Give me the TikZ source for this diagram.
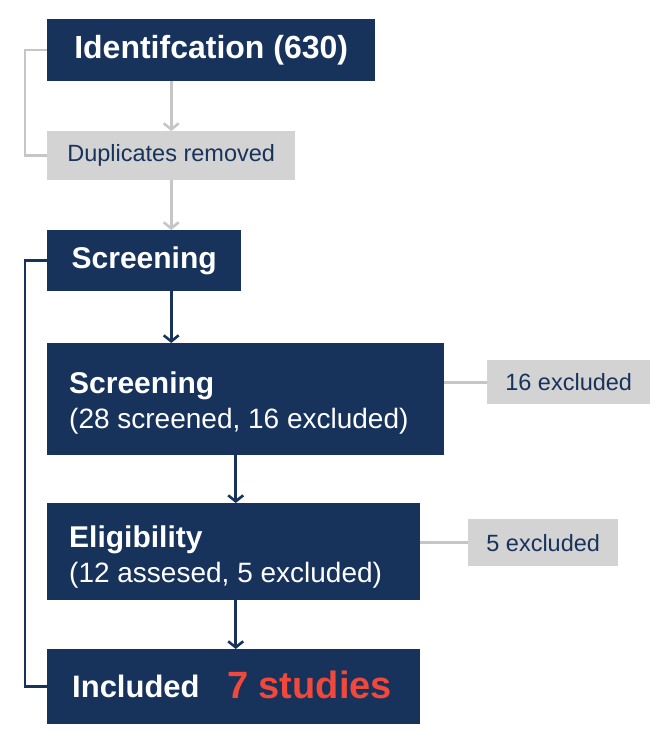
\documentclass[tikz,border=0pt]{standalone}
\usepackage{fontspec}
\setmainfont{Liberation Sans}
\usetikzlibrary{arrows.meta}
\definecolor{navy}{HTML}{17335C}
\definecolor{boxgrey}{HTML}{D3D3D3}
\definecolor{linegrey}{HTML}{C6C6C6}
\definecolor{hired}{HTML}{F0483B}
\begin{document}
\begin{tikzpicture}[x=1pt,y=-1pt,
  navybox/.style={fill=navy,text=white,inner sep=0pt,anchor=north west},
  greybox/.style={fill=boxgrey,text=navy,inner sep=0pt,anchor=north west},
  headtext/.style={text=white,inner sep=0pt,anchor=base west,font=\fontsize{30}{36}\selectfont\bfseries},
  subtext/.style={text=white,inner sep=0pt,anchor=base west,font=\fontsize{28}{34}\selectfont},
  navyarr/.style={draw=navy,line width=2.6pt,-{Straight Barb[length=6pt,width=15pt,line width=2.6pt]}},
  greyarr/.style={draw=linegrey,line width=2.6pt,-{Straight Barb[length=6pt,width=15pt,line width=2.6pt]}},
  navyline/.style={draw=navy,line width=2.6pt},
  greyline/.style={draw=linegrey,line width=2.6pt}]
\useasboundingbox (0,0) rectangle (671,738);
\fill[white] (0,0) rectangle (671,738);
% boxes
\node[navybox,minimum width=328pt,minimum height=62pt,font=\fontsize{32}{38}\selectfont\bfseries] (ident) at (47,19)
  {Identifcation (630)};
\node[greybox,minimum width=248pt,minimum height=49pt,font=\fontsize{23.5}{28}\selectfont] (dup) at (47,131)
  {Duplicates removed};
\node[navybox,minimum width=194pt,minimum height=61pt,font=\fontsize{30}{36}\selectfont\bfseries] (scr) at (47,230)
  {Screening};
\node[navybox,minimum width=397pt,minimum height=112pt] (scr2) at (47,343) {};
\node[headtext] (scr2a) at (69,393) {Screening};
\node[subtext] (scr2b) at (69,428) {(28 screened, 16 excluded)};
\node[greybox,minimum width=163pt,minimum height=44pt,font=\fontsize{23.5}{28}\selectfont] (ex16) at (487,360)
  {16 excluded};
\node[navybox,minimum width=373pt,minimum height=97pt] (elig) at (47,503) {};
\node[headtext] (eliga) at (69,547) {Eligibility};
\node[subtext] (eligb) at (69,582) {(12 assesed, 5 excluded)};
\node[greybox,minimum width=150pt,minimum height=47pt,font=\fontsize{23.5}{28}\selectfont] (ex5) at (468,519)
  {5 excluded};
\node[navybox,minimum width=373pt,minimum height=75pt] (incl) at (47,649) {};
\node[headtext,font=\fontsize{31}{36}\selectfont\bfseries] (incla) at (72,697) {Included};
\node[headtext,text=hired,font=\fontsize{38}{44}\selectfont\bfseries] (inclb) at (227,698) {7 studies};
% connectors
\draw[greyarr] (ident.south -| dup.north) -- (dup.north);
\draw[greyarr] (dup.south) -- (dup.south |- scr.north);
\draw[greyline] (ident.west) -- ++(-22,0) |- (dup.west);
\draw[navyline] (scr.west) -- ++(-22,0) |- (incl.west);
\draw[navyarr] (scr.south -| dup.south) -- (scr2.north -| dup.south);
\draw[navyarr] ([xshift=2pt]scr2.south -| elig.north) -- ([xshift=2pt]elig.north);
\draw[navyarr] ([xshift=2pt]elig.south) -- ([xshift=2pt]incl.north);
\draw[greyline] (scr2.east |- ex16.west) -- (ex16.west);
\draw[greyline] (elig.east |- ex5.west) -- (ex5.west);
\end{tikzpicture}
\end{document}
